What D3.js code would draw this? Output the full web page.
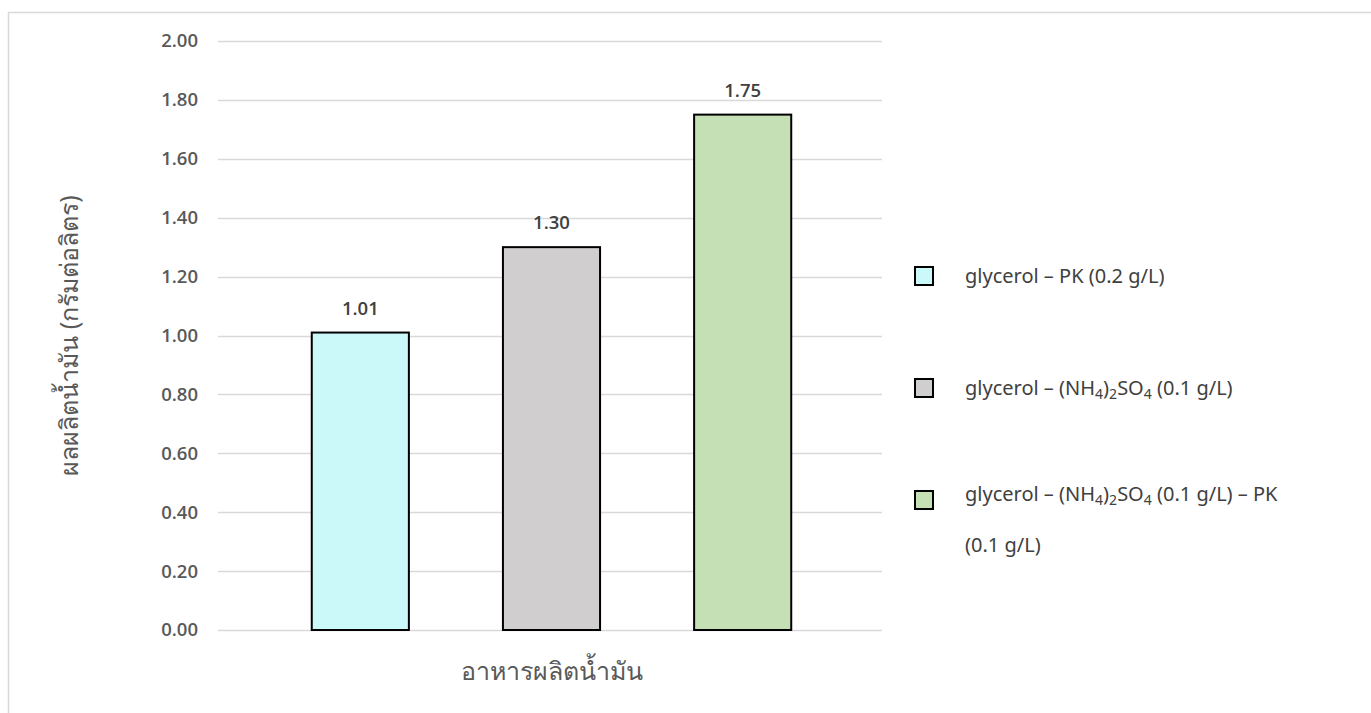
<!DOCTYPE html>
<html lang="th">
<head>
<meta charset="UTF-8">
<title>ผลผลิตน้ำมัน</title>
<script src="https://d3js.org/d3.v7.min.js"></script>
<style>
    body { margin: 0; background: #fff; overflow: hidden; }
    svg { display: block; font-family: "Noto Sans", "Open Sans", sans-serif; }
</style>
</head>
<body>
<svg id="chart"></svg>
<script>
    // data
    const series = ["s1", "s2", "s3"];
    const values = [1.01, 1.30, 1.75];
    const colors = ["#CBF9FA", "#D0CECE", "#C5E0B4"];
    const yTicks = [0, 0.2, 0.4, 0.6, 0.8, 1.0, 1.2, 1.4, 1.6, 1.8, 2.0];
    // legend labels, parts: [text, isSubscript]
    const legendLabels = [
        [[["glycerol – PK (0.2 g/L)", false]]],
        [[["glycerol – (NH", false], ["4", true], [")", false], ["2", true], ["SO", false], ["4", true], [" (0.1 g/L)", false]]],
        [[["glycerol – (NH", false], ["4", true], [")", false], ["2", true], ["SO", false], ["4", true], [" (0.1 g/L) – PK", false]],
         [["(0.1 g/L)", false]]]
    ];
    const yTitle = "ผลผลิตน้ำมัน (กรัมต่อลิตร)";
    const xTitle = "อาหารผลิตน้ำมัน";

    const W = 1371, H = 713;
    const svg = d3.select("#chart").attr("width", W).attr("height", H);

    // outer frame (right and bottom edges fall outside the picture)
    svg.append("rect")
        .attr("x", 8.5).attr("y", 12.5)
        .attr("width", 1400).attr("height", 800)
        .attr("fill", "none").attr("stroke", "#D9D9D9").attr("stroke-width", 1.5);

    const pLeft = 218, pRight = 882, pTop = 41, pBottom = 630;

    const y = d3.scaleLinear().domain([0, 2]).range([pBottom, pTop]);
    const x = d3.scaleBand().domain(series).range([pLeft + 2, pRight + 1])
        .paddingInner(0.492).paddingOuter(0.48);

    // gridlines
    svg.append("g").selectAll("line")
        .data(yTicks)
        .join("line")
        .attr("x1", pLeft).attr("x2", pRight)
        .attr("y1", d => Math.round(y(d)) + 0.5)
        .attr("y2", d => Math.round(y(d)) + 0.5)
        .attr("stroke", "#D9D9D9").attr("stroke-width", 1.5);

    // y axis labels
    const yAxis = d3.axisLeft(y).tickValues(yTicks).tickFormat(d3.format(".2f")).tickSize(0).tickPadding(20);
    const ya = svg.append("g").attr("transform", `translate(${pLeft},0)`).call(yAxis);
    ya.select(".domain").remove();
    ya.selectAll("text")
        .attr("fill", "#595959")
        .style("font-size", "18.5px")
        .style("font-weight", "600")
        .style("font-family", "'Open Sans', sans-serif");

    // bars
    svg.append("g").selectAll("rect")
        .data(values)
        .join("rect")
        .attr("x", (d, i) => x(series[i]))
        .attr("y", d => y(d))
        .attr("width", x.bandwidth())
        .attr("height", d => y(0) - y(d))
        .attr("fill", (d, i) => colors[i])
        .attr("stroke", "#000").attr("stroke-width", 2);

    // value labels
    svg.append("g").selectAll("text")
        .data(values)
        .join("text")
        .attr("x", (d, i) => x(series[i]) + x.bandwidth() / 2)
        .attr("y", d => y(d) - 18)
        .attr("text-anchor", "middle")
        .attr("fill", "#404040")
        .style("font-size", "18.5px")
        .style("font-weight", "600")
        .style("font-family", "'Open Sans', sans-serif")
        .text(d => d3.format(".2f")(d));

    // axis titles
    svg.append("text")
        .attr("transform", `translate(78,${(pTop + pBottom) / 2}) rotate(-90)`)
        .attr("text-anchor", "middle")
        .attr("fill", "#595959")
        .style("font-size", "25px")
        .text(yTitle);

    svg.append("text")
        .attr("x", (pLeft + pRight) / 2 + 2)
        .attr("y", 680)
        .attr("text-anchor", "middle")
        .attr("fill", "#595959")
        .style("font-size", "25px")
        .text(xTitle);

    // legend
    const legendY = [276, 388, 500];
    const lg = svg.append("g");
    legendLabels.forEach((lines, i) => {
        lg.append("rect")
            .attr("x", 915).attr("y", legendY[i] - 9)
            .attr("width", 18).attr("height", 18)
            .attr("fill", colors[i]).attr("stroke", "#000").attr("stroke-width", 2);
        const y0 = lines.length > 1 ? legendY[i] + 1 : legendY[i] + 7;
        lines.forEach((parts, j) => {
            const t = lg.append("text")
                .attr("x", 965).attr("y", y0 + j * 51)
                .attr("fill", "#404040")
                .style("font-size", "20px");
            parts.forEach(([s, sub]) => {
                const ts = t.append("tspan").text(s);
                if (sub) ts.attr("baseline-shift", "-25%").style("font-size", "14px");
            });
        });
    });
</script>
</body>
</html>
